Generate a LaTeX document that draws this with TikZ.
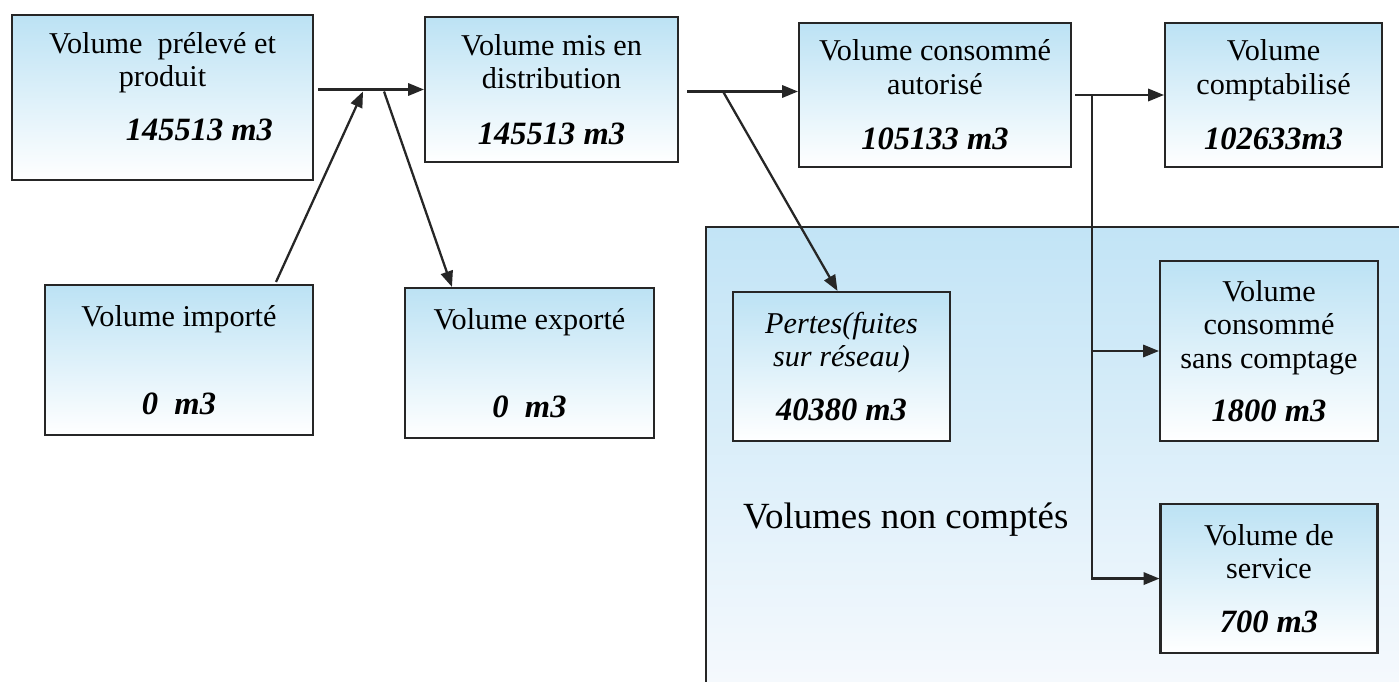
\documentclass[tikz,border=0pt]{standalone}
\usepackage{fontspec}
\setmainfont{Liberation Serif}
\usetikzlibrary{positioning, arrows.meta, calc}
\definecolor{boxBlue}{HTML}{BCE2F4}
\definecolor{panelTop}{HTML}{C2E4F6}
\definecolor{panelBottom}{HTML}{F5F9FD}
\definecolor{lineGray}{HTML}{262626}
\newcommand{\vol}[1]{{\bfseries\itshape\fontsize{18.5}{19}\selectfont #1}}

\begin{document}
\begin{tikzpicture}[
    x=0.02cm, y=-0.02cm,
    volbox/.style={draw=lineGray, line width=1.2pt, top color=boxBlue, bottom color=white, align=center, inner sep=0pt, font=\fontsize{17.2}{19}\selectfont},
    flow/.style={draw=lineGray, line width=1.3pt, -{Triangle[length=9pt,width=7pt]}}
]
    \useasboundingbox (0,0) rectangle (1399,682);

    % panel of the volumes not counted
    \shade[top color=panelTop, bottom color=panelBottom] (706,227) rectangle (1399,682);
    \draw[draw=lineGray, line width=1.2pt] (1399,227) -- (706,227) -- (706,682);
    \node[font=\fontsize{21}{24}\selectfont, anchor=base west] (nc) at (737,528) {Volumes non comptés};

    \node[volbox, minimum width=6.02cm, minimum height=3.3cm] (A) at (162.5,97.5) {Volume~ prélevé et\\produit\\[12pt]\hspace*{42pt}\vol{145513 m3}\rule[-0.44cm]{0pt}{0.44cm}};
    \node[volbox, minimum width=5.06cm, minimum height=2.9cm] (B) at (551.5,89.5) {Volume mis en\\distribution\\[12.5pt]\vol{145513 m3}};
    \node[volbox, minimum width=5.44cm, minimum height=2.88cm] (C) at (935,95) {Volume consommé\\autorisé\\[12.5pt]\vol{105133 m3}};
    \node[volbox, minimum width=4.34cm, minimum height=2.88cm, right=1.84cm of C] (D) {Volume\\comptabilisé\\[12.5pt]\vol{102633m3}};
    \node[volbox, minimum width=5.36cm, minimum height=3cm] (E) at (179,360) {Volume importé\\[31pt]\vol{0~ m3}};
    \node[volbox, minimum width=4.98cm, minimum height=3cm] (F) at (529.5,363) {Volume exporté\\[31pt]\vol{0~ m3}};
    \node[volbox, minimum width=4.34cm, minimum height=2.98cm] (G) at (841.5,366.5) {\textit{Pertes(fuites}\\\textit{sur réseau)}\\[11.5pt]\vol{40380 m3}};
    \node[volbox, minimum width=4.36cm, minimum height=3.6cm] (H) at (1269,351) {Volume\\consommé\\sans comptage\\[11pt]\vol{1800 m3}};
    \node[volbox, minimum width=4.34cm, minimum height=2.98cm, below=1.22cm of H] (I) {Volume de\\service\\[11.5pt]\vol{700 m3}};

    % flows
    \coordinate (a0) at ($(A.east |- B.west)+(4,0)$);
    \coordinate (imp) at ($(a0)+(45,2)$);
    \coordinate (exp) at ($(a0)+(66,2)$);
    \draw[flow] (a0) -- (B.west);
    \draw[flow] ($(E.north east)+(-38,-2)$) -- (imp);
    \draw[flow] (exp) -- ($(F.north west)+(48,0)$);

    \coordinate (b0) at ($(B.east)+(8,2)$);
    \coordinate (loss) at ($(b0)+(36,0)$);
    \draw[flow] (b0) -- (b0 -| C.west);
    \draw[flow] (loss) -- ($(G.north)+(-4,0)$);

    \coordinate (c0) at ($(C.east)+(3,0)$);
    \coordinate (split) at ($(c0)+(17,0)$);
    \draw[flow] (c0) -- (D.west);
    \draw[flow] (split) |- (I.west);
    \draw[flow] (split |- H.west) -- (H.west);
\end{tikzpicture}
\end{document}
